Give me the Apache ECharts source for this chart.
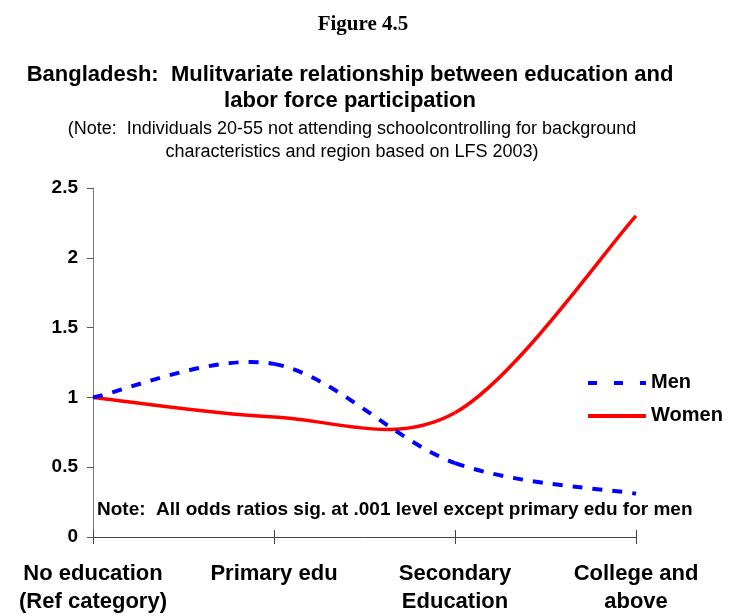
<!DOCTYPE html>
<html>
<head>
<meta charset="utf-8">
<script src="https://cdn.jsdelivr.net/npm/echarts@6/dist/echarts.min.js"></script>
<style>
  html, body { margin: 0; padding: 0; background: #fff; }
  #chart { width: 735px; height: 616px; }
</style>
</head>
<body>
<div id="chart"></div>
<script>
// categories on the x axis
var categories = [
  "No education\n(Ref category)",
  "Primary edu",
  "Secondary\nEducation",
  "College and\nabove"
];
// odds ratios
var menData = [1.0, 1.24, 0.53, 0.31];
var womenData = [1.0, 0.86, 0.89, 2.3];

var chart = echarts.init(document.getElementById("chart"));

var font = "Liberation Sans, Arial, sans-serif";

// Excel-like smoothed line: one cubic bezier per segment (catmull-rom, 1/6)
function smoothSegment(values, style) {
  return function (params, api) {
    var i = params.dataIndex;
    if (i >= values.length - 1) return null;
    var pt = function (j) {
      j = Math.max(0, Math.min(values.length - 1, j));
      return api.coord([j, values[j]]);
    };
    var p0 = pt(i - 1), p1 = pt(i), p2 = pt(i + 1), p3 = pt(i + 2);
    return {
      type: "bezierCurve",
      shape: {
        x1: p1[0], y1: p1[1],
        cpx1: p1[0] + (p2[0] - p0[0]) / 6,
        cpy1: p1[1] + (p2[1] - p0[1]) / 6,
        cpx2: p2[0] - (p3[0] - p1[0]) / 6,
        cpy2: p2[1] - (p3[1] - p1[1]) / 6,
        x2: p2[0], y2: p2[1]
      },
      style: style
    };
  };
}

function toPairs(values) {
  return values.map(function (v, i) { return [i, v]; });
}

chart.setOption({
  animation: false,
  title: [
    {
      text: "Figure 4.5",
      left: 358,
      textAlign: "center",
      top: 9,
      textStyle: {
        fontFamily: "Liberation Serif, Times New Roman, serif",
        fontWeight: "bold",
        fontSize: 21,
        color: "#000"
      }
    },
    {
      text: "Bangladesh:  Mulitvariate relationship between education and\nlabor force participation",
      left: 345,
      textAlign: "center",
      top: 57,
      textStyle: {
        fontFamily: font,
        fontWeight: "bold",
        fontSize: 22,
        lineHeight: 26,
        color: "#000"
      }
    },
    {
      text: "(Note:  Individuals 20-55 not attending schoolcontrolling for background\ncharacteristics and region based on LFS 2003)",
      left: 347,
      textAlign: "center",
      top: 113,
      textStyle: {
        fontFamily: font,
        fontWeight: "normal",
        fontSize: 18,
        lineHeight: 23,
        color: "#000"
      }
    }
  ],
  grid: {
    left: 93,
    right: 99,
    top: 188,
    bottom: 79
  },
  xAxis: [
    {
      type: "category",
      data: categories,
      boundaryGap: false,
      axisLine: { lineStyle: { color: "#444", width: 1 } },
      axisTick: { interval: 0, length: 7, lineStyle: { color: "#444" } },
      axisLabel: {
        interval: 0,
        hideOverlap: false,
        margin: 23,
        fontFamily: font,
        fontWeight: "bold",
        fontSize: 22,
        lineHeight: 28,
        color: "#000"
      },
      splitLine: { show: false }
    },
    {
      // second axis only for the inner half of the crossing ticks
      type: "category",
      data: categories,
      boundaryGap: false,
      position: "bottom",
      axisLine: { show: false },
      axisTick: { interval: 0, inside: true, length: 7, lineStyle: { color: "#444" } },
      axisLabel: { show: false },
      splitLine: { show: false }
    }
  ],
  yAxis: {
    type: "value",
    min: 0,
    max: 2.5,
    interval: 0.5,
    axisLine: { show: true, lineStyle: { color: "#777", width: 1 } },
    axisTick: { show: true, length: 6, lineStyle: { color: "#555" } },
    axisLabel: {
      margin: 15,
      fontFamily: font,
      fontWeight: "bold",
      fontSize: 19,
      color: "#000"
    },
    splitLine: { show: false }
  },
  graphic: [
    {
      type: "text",
      left: 97,
      top: 500,
      style: {
        text: "Note:  All odds ratios sig. at .001 level except primary edu for men",
        font: "bold 19px " + font,
        fill: "#000"
      }
    },
    // legend
    {
      type: "line",
      shape: { x1: 588, y1: 383, x2: 646, y2: 383 },
      style: { stroke: "#0000ff", lineWidth: 4, lineDash: [9, 17] }
    },
    {
      type: "text",
      left: 651,
      top: 372,
      style: { text: "Men", font: "bold 20px " + font, fill: "#000" }
    },
    {
      type: "line",
      shape: { x1: 588, y1: 416, x2: 646, y2: 416 },
      style: { stroke: "#ff0000", lineWidth: 4 }
    },
    {
      type: "text",
      left: 651,
      top: 405,
      style: { text: "Women", font: "bold 20px " + font, fill: "#000" }
    }
  ],
  series: [
    {
      name: "Women",
      type: "custom",
      data: toPairs(womenData),
      renderItem: smoothSegment(womenData, {
        stroke: "#ff0000", lineWidth: 3.5, fill: null
      }),
      z: 2
    },
    {
      name: "Men",
      type: "custom",
      data: toPairs(menData),
      renderItem: smoothSegment(menData, {
        stroke: "#0000ff", lineWidth: 4, fill: null, lineDash: [10, 10]
      }),
      z: 3
    }
  ]
});
</script>
</body>
</html>
